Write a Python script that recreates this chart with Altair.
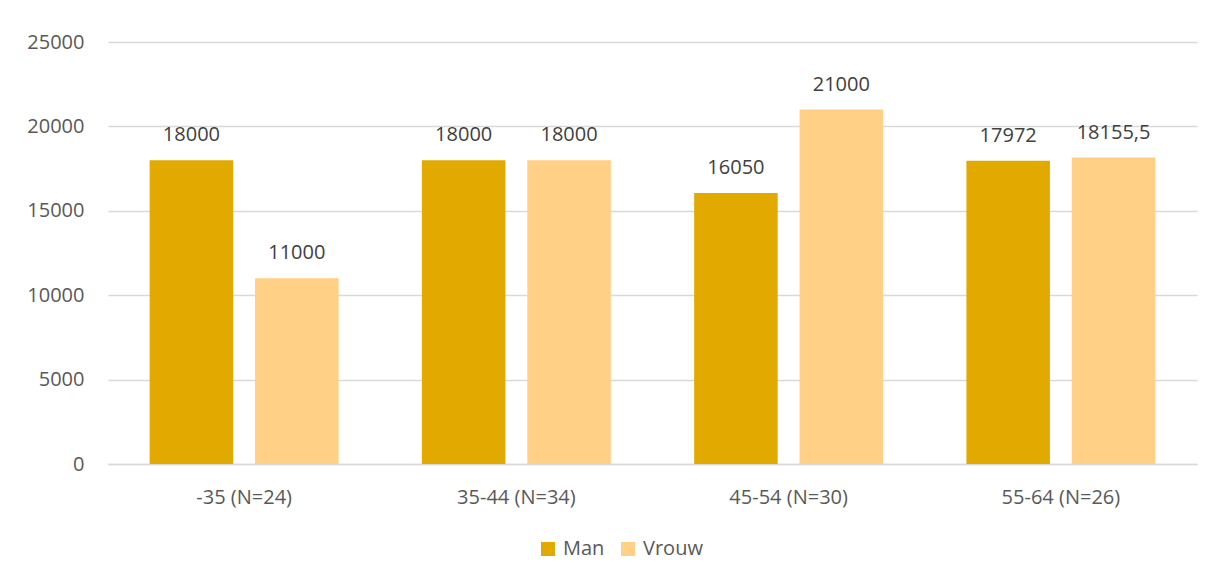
import altair as alt
import pandas as pd

categories = ["-35 (N=24)", "35-44 (N=34)", "45-54 (N=30)", "55-64 (N=26)"]
man = [18000, 18000, 16050, 17972]
vrouw = [11000, 18000, 21000, 18155.5]
series = ["Man", "Vrouw"]
colors = ["#E2AA00", "#FFD085"]

rows = []
for c, m, v in zip(categories, man, vrouw):
    rows.append({"cat": c, "serie": "Man", "val": m,
                 "label": f"{m:g}".replace(".", ",")})
    rows.append({"cat": c, "serie": "Vrouw", "val": v,
                 "label": f"{v:g}".replace(".", ",")})
df = pd.DataFrame(rows)

FONT = "Open Sans"

x = alt.X("cat:N", sort=categories, title=None,
          scale=alt.Scale(paddingInner=0.306, paddingOuter=0.153),
          axis=alt.Axis(labelAngle=0, labelFontSize=20, labelColor="#595959",
                        labelFont=FONT, ticks=False, domainColor="#D9D9D9",
                        domainWidth=1.5, labelPadding=23))
xo = alt.XOffset("serie:N", sort=series,
                 scale=alt.Scale(paddingInner=0.2075, paddingOuter=0))

base = alt.Chart(df)

bars = base.mark_bar().encode(
    x=x,
    xOffset=xo,
    y=alt.Y("val:Q", title=None,
            scale=alt.Scale(domain=[0, 25000], nice=False),
            axis=alt.Axis(values=[0, 5000, 10000, 15000, 20000, 25000],
                          format="d",
                          labelFontSize=20, labelColor="#595959", labelFont=FONT,
                          ticks=False, domain=False, gridColor="#D9D9D9",
                          gridWidth=1.5, labelPadding=24)),
    color=alt.Color("serie:N", sort=series, title=None,
                    scale=alt.Scale(domain=series, range=colors),
                    legend=alt.Legend(orient="none", direction="horizontal",
                                      legendX=430, legendY=497,
                                      symbolType="square", symbolSize=196,
                                      symbolStrokeWidth=0,
                                      labelFontSize=20, labelColor="#595959",
                                      labelFont=FONT, columnPadding=13,
                                      labelOffset=5)),
)

labels = base.mark_text(baseline="bottom", dy=-15, fontSize=20,
                        color="#404040", font=FONT).encode(
    x=alt.X("cat:N", sort=categories),
    xOffset=xo,
    y="val:Q",
    text="label:N",
)

chart = alt.layer(bars, labels).properties(
    width=1089, height=422,
    autosize=alt.AutoSizeParams(type="none"),
    padding={"left": 100, "top": 34, "right": 12, "bottom": 106},
).configure(background="white").configure_view(stroke=None)

chart.save("out.html", embed_options={"renderer": "svg", "actions": False})
